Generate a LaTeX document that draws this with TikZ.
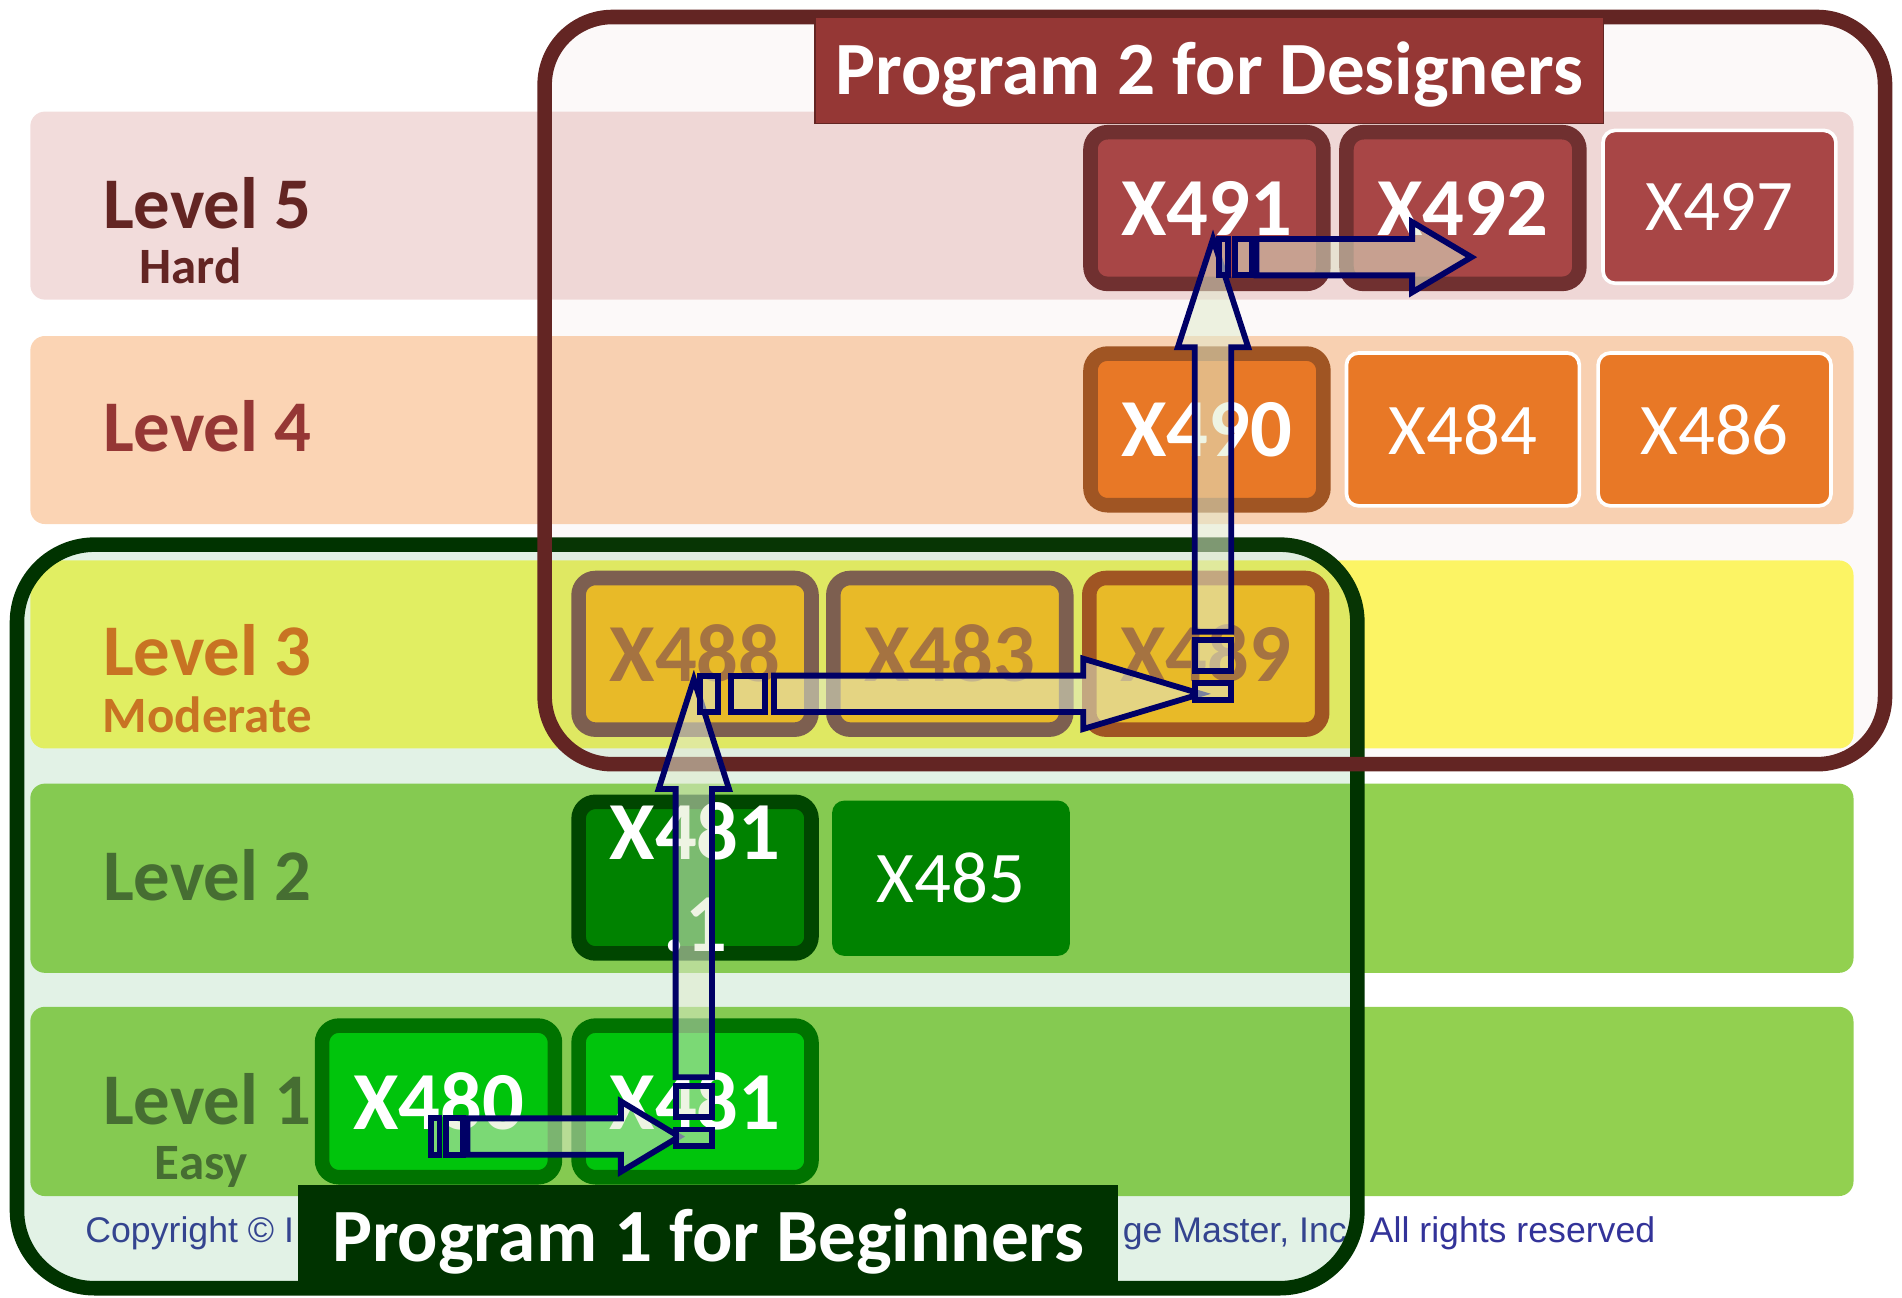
\documentclass[tikz,border=0pt]{standalone}
\usepackage{fontspec}
\setmainfont{Carlito}
\newfontfamily\arialfont{Liberation Sans}

\definecolor{lvfive}{RGB}{242,220,219}
\definecolor{lvfour}{RGB}{251,212,180}
\definecolor{lvthree}{RGB}{255,250,100}
\definecolor{lvlow}{RGB}{146,208,80}
\definecolor{maroon}{RGB}{99,37,35}
\definecolor{brick}{RGB}{149,55,53}
\definecolor{deepgreen}{RGB}{0,51,0}
\definecolor{navyline}{RGB}{0,0,102}
\definecolor{copyblue}{RGB}{51,51,153}
\definecolor{redbox}{RGB}{168,70,70}
\definecolor{redrim}{RGB}{112,48,48}
\definecolor{orangebox}{RGB}{232,120,38}
\definecolor{orangerim}{RGB}{160,85,35}
\definecolor{goldbox}{RGB}{232,186,40}
\definecolor{goldrim}{RGB}{125,95,80}
\definecolor{goldtext}{RGB}{165,115,65}
\definecolor{midgreen}{RGB}{0,130,0}
\definecolor{midrim}{RGB}{0,70,0}
\definecolor{brightgreen}{RGB}{0,196,12}
\definecolor{brightrim}{RGB}{0,115,0}
\definecolor{lvtwotext}{RGB}{70,110,50}
\definecolor{lvthreetext}{RGB}{200,115,35}

\tikzset{
  lvlabel/.style={anchor=base, inner sep=0pt, font=\fontsize{30}{32}\selectfont\bfseries, text=#1},
  lvsub/.style={anchor=base, inner sep=0pt, font=\fontsize{21}{23}\selectfont\bfseries, text=#1},
  rimbox/.style={draw=#1, line width=6pt, rounded corners=7pt, minimum width=96pt,
    minimum height=62.5pt, inner sep=0pt, text=white, font=\fontsize{34}{38}\selectfont\bfseries},
  whitebox/.style={draw=white, line width=1.5pt, rounded corners=5pt, minimum width=96pt,
    minimum height=63pt, inner sep=0pt, text=white, font=\fontsize{30}{32}\selectfont},
  titlebox/.style={inner sep=0pt, text=white, text height=20pt, text depth=0pt,
    font=\fontsize{31}{33}\selectfont\bfseries},
  copytext/.style={inner sep=0pt, text=copyblue, font=\arialfont\fontsize{14.7}{16}\selectfont},
  arrowline/.style={draw=navyline, line width=2.4pt, line join=miter,
    fill={rgb,255:red,225;green,235;blue,205}, fill opacity=0.55},
  pics/stripearrow/.style={code={
    \draw[arrowline] (0,-15) rectangle ({0.036*#1},15);
    \draw[arrowline] ({0.062*#1},-15) rectangle ({0.13*#1},15);
    \draw[arrowline] ({0.148*#1},-15) -- ({0.765*#1},-15) -- ({0.765*#1},-29)
      -- (#1,0) -- ({0.765*#1},29) -- ({0.765*#1},15) -- ({0.148*#1},15) -- cycle;
  }}
}

\begin{document}
\begin{tikzpicture}[x=0.5pt,y=-0.5pt]
  \useasboundingbox (0,0) rectangle (1568,1070);

  % level bands
  \fill[lvfive, rounded corners=6pt] (25,92) rectangle (1528,247);
  \fill[lvfour, rounded corners=6pt] (25,277) rectangle (1528,432);
  \fill[lvthree, rounded corners=6pt] (25,462) rectangle (1528,617);
  \fill[lvlow, rounded corners=6pt] (25,646) rectangle (1528,802);
  \fill[lvlow, rounded corners=6pt] (25,830) rectangle (1528,986);

  \node[copytext, anchor=west] (copyl) at (70,1017) {Copyright © I};
  \node[copytext, anchor=east] (copyr) at (1365,1017) {ge Master, Inc. All rights reserved};

  % the two programs
  \draw[line width=6pt, draw=deepgreen, fill={rgb,255:red,60;green,170;blue,90},
    fill opacity=0.15, rounded corners=32pt] (14,449) rectangle (1119,1062);
  \draw[line width=6pt, draw=maroon, fill={rgb,255:red,180;green,110;blue,110},
    fill opacity=0.04, rounded corners=28pt] (449,14) rectangle (1554,630);

  % level names
  \node[lvlabel=maroon] (l5) at (171,188) {Level 5};
  \node[lvsub=maroon] (l5s) at (157,234) {Hard};
  \node[lvlabel=brick] (l4) at (171,372) {Level 4};
  \node[lvlabel=lvthreetext] (l3) at (171,557) {Level 3};
  \node[lvsub=lvthreetext] (l3s) at (171,604) {Moderate};
  \node[lvlabel=lvtwotext] (l2) at (171,742) {Level 2};
  \node[lvlabel=lvtwotext] (l1) at (171,927) {Level 1};
  \node[lvsub=lvtwotext] (l1s) at (166,972) {Easy};

  % courses
  \node[rimbox=redrim, fill=redbox] (x491) at (995,171.5) {X491};
  \node[rimbox=redrim, fill=redbox] (x492) at (1206,171.5) {X492};
  \node[whitebox, fill=redbox] (x497) at (1417.5,170.5) {X497};

  \node[rimbox=orangerim, fill=orangebox] (x490) at (995,354) {X490};
  \node[whitebox, fill=orangebox] (x484) at (1206,354) {X484};
  \node[whitebox, fill=orangebox] (x486) at (1413.5,354) {X486};

  \node[rimbox=goldrim, fill=goldbox, text=goldtext] (x488) at (573,539) {X488};
  \node[rimbox=goldrim, fill=goldbox, text=goldtext] (x483) at (783,539) {X483};
  \node[rimbox=orangerim, fill=goldbox, text=goldtext] (x489) at (994,539) {X489};

  \node[rimbox=midrim, fill=midgreen, align=center] (x4811) at (573,723.5) {X481\\.1};
  \node[whitebox, draw=none, fill=midgreen, minimum width=98pt, minimum height=64pt] (x485) at (784,724) {X485};

  \node[rimbox=brightrim, fill=brightgreen] (x480) at (361.5,908) {X480};
  \node[rimbox=brightrim, fill=brightgreen] (x481) at (573,908) {X481};

  % paths through the levels
  \coordinate (t1) at (355,937);
  \coordinate (t2) at (572,945);
  \coordinate (t3) at (577,572);
  \coordinate (t4) at (1000,577);
  \coordinate (t5) at (1005,212);
  \pic at (t1) {stripearrow=205};
  \pic[rotate=90] at (t2) {stripearrow=385};
  \pic at (t3) {stripearrow=413};
  \pic[rotate=90] at (t4) {stripearrow=380};
  \pic at (t5) {stripearrow=208};

  % program titles
  \node[titlebox, fill=brick, draw=maroon, line width=0.6pt, minimum width=325pt,
    minimum height=44pt] (prog2) at (997,58) {Program 2 for Designers};
  \node[titlebox, fill=deepgreen, minimum width=338pt, minimum height=43pt] (prog1) at (584,1020) {Program 1 for Beginners};
\end{tikzpicture}
\end{document}
